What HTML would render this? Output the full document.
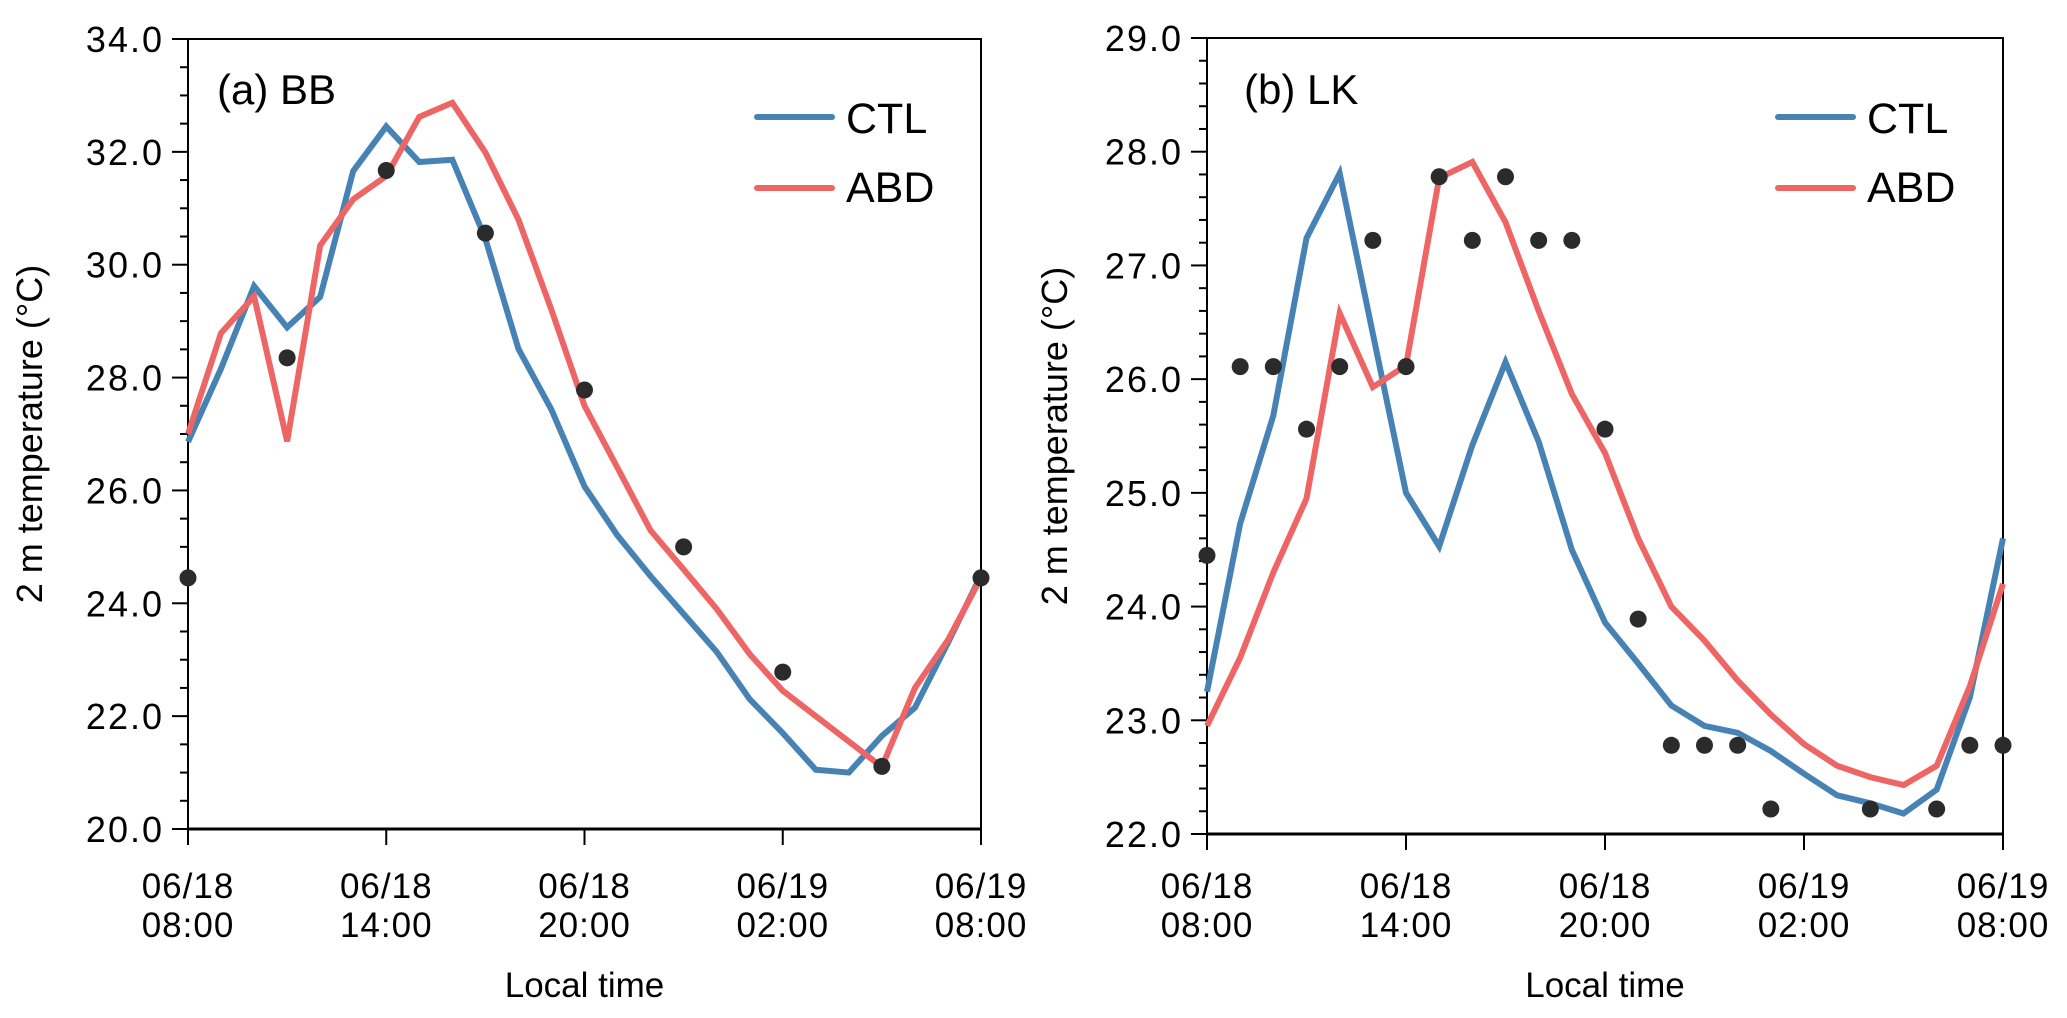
<!DOCTYPE html>
<html><head><meta charset="utf-8"><style>
html,body{margin:0;padding:0;background:#fff;}
svg{display:block;font-family:"Liberation Sans",Arial,sans-serif;}
</style></head><body>
<svg id="fig" width="2067" height="1018" viewBox="0 0 2067 1018" xmlns="http://www.w3.org/2000/svg"></svg>
<script>
// ---- data (hourly from 06/18 08:00 to 06/19 08:00) ----
const xTickLabels1 = ["06/18","06/18","06/18","06/19","06/19"];
const xTickLabels2 = ["08:00","14:00","20:00","02:00","08:00"];
const bbCTL = [26.86,28.16,29.62,28.89,29.43,31.66,32.45,31.82,31.86,30.46,28.51,27.43,26.07,25.2,24.48,23.81,23.14,22.3,21.7,21.05,21.0,21.65,22.15,23.3,24.5];
const bbABD = [27.0,28.79,29.44,26.87,30.34,31.16,31.57,32.62,32.87,31.99,30.8,29.2,27.5,26.4,25.29,24.6,23.9,23.1,22.45,22.0,21.55,21.1,22.5,23.35,24.45];
const bbObsHour = [0,3,6,9,12,15,18,21,24];
const bbObs = [24.45,28.35,31.67,30.56,27.78,25.0,22.78,21.11,24.45];
const bbYTicks = [20,22,24,26,28,30,32,34];
const lkCTL = [23.25,24.73,25.68,27.24,27.81,26.4,25.0,24.53,25.42,26.15,25.45,24.5,23.86,23.5,23.13,22.95,22.89,22.73,22.53,22.34,22.27,22.18,22.39,23.2,24.6];
const lkABD = [22.95,23.55,24.3,24.95,26.58,25.93,26.12,27.77,27.91,27.38,26.6,25.87,25.35,24.6,24.0,23.7,23.35,23.05,22.79,22.6,22.5,22.43,22.6,23.3,24.2];
const lkObsHour = [0,1,2,3,4,5,6,7,8,9,10,11,12,13,14,15,16,17,20,22,23,24];
const lkObs = [24.45,26.11,26.11,25.56,26.11,27.22,26.11,27.78,27.22,27.78,27.22,27.22,25.56,23.89,22.78,22.78,22.78,22.22,22.22,22.22,22.78,22.78];
const lkYTicks = [22,23,24,25,26,27,28,29];

const NS="http://www.w3.org/2000/svg";
const svg=document.getElementById('fig');
function mk(tag,attrs,parent){const e=document.createElementNS(NS,tag);for(const k in attrs)e.setAttribute(k,attrs[k]);(parent||svg).appendChild(e);return e;}

function panel(cfg){
  const g=mk('g',{});
  
  
  const L=cfg.L,R=cfg.R,T=cfg.T,B=cfg.B;
  const sx=h=>L+(R-L)*h/24;
  const sy=v=>B-(B-T)*(v-cfg.ymin)/(cfg.ymax-cfg.ymin);
  const fr=mk('rect',{x:L,y:T,width:R-L,height:B-T,fill:'none',stroke:'#000','stroke-width':2},g);
  
  
  const bx=mk('line',{x1:L,x2:R,y1:B,y2:B,stroke:'#000','stroke-width':3},g);
  
  
  for(let v=cfg.ymin; v<=cfg.ymax+1e-6; v+=cfg.minor){
    const y=sy(v);
    const isMajor=Math.abs((v-cfg.ymin)/cfg.major-Math.round((v-cfg.ymin)/cfg.major))<1e-6;
    const t=mk('line',{x1:L-(isMajor?16:8),x2:L,y1:y,y2:y,stroke:'#000','stroke-width':2},g);
    
    
  }
  cfg.yticks.forEach(v=>{
    const t=mk('text',{x:L-24,y:sy(v)+13,'text-anchor':'end','font-size':36,'letter-spacing':2,fill:'#000'},g);
    t.textContent=v.toFixed(1);
    
    
  });
  for(let i=0;i<5;i++){
    const x=sx(i*6);
    const t=mk('line',{x1:x,x2:x,y1:B,y2:B+16,stroke:'#000','stroke-width':2},g);
    
    
    const a=mk('text',{x:x,y:898,'text-anchor':'middle','font-size':35,'letter-spacing':1},g);
    a.textContent=xTickLabels1[i];
    
    
    const b=mk('text',{x:x,y:937,'text-anchor':'middle','font-size':35,'letter-spacing':1},g);
    b.textContent=xTickLabels2[i];
    
    
  }
  const xt=mk('text',{x:(L+R)/2,y:997,'text-anchor':'middle','font-size':35},g);
  xt.textContent='Local time';
  
  
  const yt=mk('text',{x:0,y:0,'text-anchor':'middle','font-size':36,transform:`translate(${cfg.ylabX},${(T+B)/2}) rotate(-90)`},g);
  yt.textContent='2 m temperature (\u00B0C)';
  
  
  const pt=mk('text',{x:cfg.titleX,y:104,'font-size':42},g);
  pt.textContent=cfg.title;
  
  
  function line(vals,color,name){
    const p=mk('polyline',{points:vals.map((v,i)=>sx(i)+','+sy(v)).join(' '),fill:'none',stroke:color,'stroke-width':6,'stroke-linejoin':'miter'},g);
    
    
  }
  line(cfg.ctl,'#4682b4','ctl-line');
  line(cfg.abd,'#ee6565','abd-line');
  cfg.obsH.forEach((h,i)=>{
    const c=mk('circle',{cx:sx(h),cy:sy(cfg.obs[i]),r:8.5,fill:'#2b2b2b'},g);
    
    
  });
  const lx=cfg.legX;
  const l1=mk('line',{x1:lx,x2:lx+75,y1:117,y2:117,stroke:'#4682b4','stroke-width':6,'stroke-linecap':'round'},g);
  
  
  const t1=mk('text',{x:lx+89,y:133,'font-size':43},g);
  t1.textContent='CTL';
  
  
  const l2=mk('line',{x1:lx,x2:lx+75,y1:188,y2:188,stroke:'#ee6565','stroke-width':6,'stroke-linecap':'round'},g);
  
  
  const t2=mk('text',{x:lx+89,y:202,'font-size':43},g);
  t2.textContent='ABD';
  
  
}

panel({name:'panel-a-bb',L:188,R:981,T:39,B:829,ymin:20,ymax:34,major:2,minor:0.5,yticks:bbYTicks,
  ctl:bbCTL,abd:bbABD,obsH:bbObsHour,obs:bbObs,title:'(a) BB',titleX:217,ylabX:42,legX:757});
panel({name:'panel-b-lk',L:1207,R:2003,T:38,B:834,ymin:22,ymax:29,major:1,minor:0.2,yticks:lkYTicks,
  ctl:lkCTL,abd:lkABD,obsH:lkObsHour,obs:lkObs,title:'(b) LK',titleX:1244,ylabX:1067,legX:1778});
</script>
</body></html>
